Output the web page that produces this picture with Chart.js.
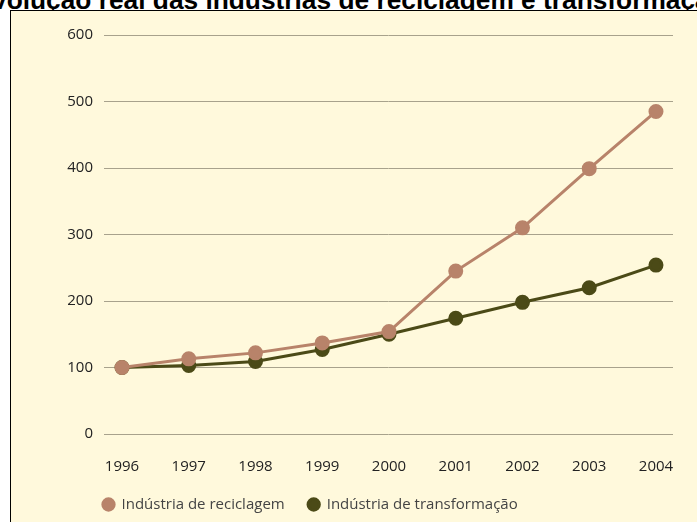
<!DOCTYPE html>
<html>
<head>
<meta charset="utf-8">
<script src="https://cdn.jsdelivr.net/npm/chart.js@4"></script>
<style>
  html, body { margin: 0; padding: 0; background: #ffffff; width: 697px; height: 522px; overflow: hidden; position: relative; }
  #title { position: absolute; left: -25.5px; top: -14.5px; white-space: nowrap; font-family: "Liberation Sans", Arial, sans-serif; font-weight: bold; font-size: 26.3px; line-height: 28px; color: #000; }
  #box { position: absolute; left: 10px; top: 10px; width: 800px; height: 600px; background: #FFF9DC; border-left: 1px solid #000; border-top: 1px solid #000; }
  #wrap { position: absolute; left: 0; top: 0; width: 697px; height: 522px; }
</style>
</head>
<body>
<div id="title">Evolução real das indústrias de reciclagem e transformação</div>
<div id="box"></div>
<div id="wrap"><canvas id="c" width="697" height="522"></canvas></div>
<script>
const years = [1996, 1997, 1998, 1999, 2000, 2001, 2002, 2003, 2004];
const reciclagem = [100, 113, 122, 137, 154, 245, 310, 399, 485];
const transformacao = [100, 103, 109, 127, 150, 174, 198, 220, 254];
const seriesNames = ["Indústria de reciclagem", "Indústria de transformação"];
const yTicks = [0, 100, 200, 300, 400, 500, 600];

const recColor = "#B8836A";
const traColor = "#4B4A17";

const toPts = arr => years.map((y, i) => ({ x: y, y: arr[i] }));

const legendShift = {
  id: "legendShift",
  afterLayout(chart) {
    if (chart.legend) {
      chart.legend.left = 79.5;
      chart.legend.top = 473.5;
    }
  }
};

new Chart(document.getElementById("c"), {
  type: "line",
  data: {
    datasets: [
      { label: seriesNames[0], data: toPts(reciclagem), borderColor: recColor, backgroundColor: recColor,
        pointBackgroundColor: recColor, pointBorderColor: recColor, borderWidth: 3, pointRadius: 6, pointHoverRadius: 6, tension: 0 },
      { label: seriesNames[1], data: toPts(transformacao), borderColor: traColor, backgroundColor: traColor,
        pointBackgroundColor: traColor, pointBorderColor: traColor, borderWidth: 3, pointRadius: 6, pointHoverRadius: 6, tension: 0 }
    ]
  },
  options: {
    responsive: false,
    animation: false,
    events: [],
    layout: { padding: { left: 0, right: 24, top: 35, bottom: -17.5 } },
    plugins: {
      title: { display: false },
      tooltip: { enabled: false },
      legend: {
        position: "bottom",
        align: "start",
        labels: {
          usePointStyle: true,
          pointStyle: "circle",
          boxWidth: 11,
          boxHeight: 8,
          padding: 23.5,
          color: "#444",
          font: { family: "'Open Sans', sans-serif", size: 15 }
        }
      }
    },
    scales: {
      x: {
        type: "linear",
        min: 1995.73,
        max: 2004.255,
        afterBuildTicks: s => { s.ticks = years.map(v => ({ value: v })); },
        grid: { display: false },
        border: { display: false },
        ticks: {
          padding: 15.5,
          color: "#222",
          font: { family: "'Open Sans', sans-serif", size: 15 },
          callback: v => String(v),
          maxRotation: 0,
          autoSkip: false
        }
      },
      y: {
        min: 0,
        max: 600,
        afterBuildTicks: s => { s.ticks = yTicks.map(v => ({ value: v })); },
        afterFit: s => { s.width = 104; },
        grid: { color: "#A8A28C", lineWidth: 1, drawTicks: false },
        border: { display: false },
        ticks: {
          padding: 11,
          color: "#222",
          font: { family: "'Open Sans', sans-serif", size: 15 }
        }
      }
    }
  },
  plugins: [legendShift]
});
</script>
</body>
</html>
